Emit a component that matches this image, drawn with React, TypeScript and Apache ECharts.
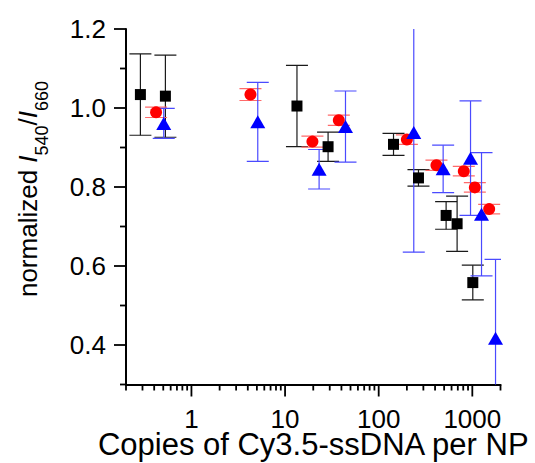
import React, { useEffect, useRef } from 'react';
import * as echarts from 'echarts';

// Black squares
const blackX = [0.285, 0.527, 13.4, 28.8, 144, 266, 525, 688, 1012];
const blackY = [1.034, 1.03, 1.005, 0.902, 0.908, 0.823, 0.728, 0.707, 0.558];
const blackErr = [0.103, 0.104, 0.103, 0.037, 0.028, 0.021, 0.035, 0.07, 0.044];

// Red circles
const redX = [0.419, 4.27, 19.6, 37.5, 200, 414, 811, 1064, 1513];
const redY = [0.989, 1.034, 0.915, 0.969, 0.92, 0.855, 0.84, 0.799, 0.744];
const redErr = [0.013, 0.015, 0.014, 0.013, 0.012, 0.013, 0.012, 0.012, 0.012];

// Blue triangles
const blueX = [0.506, 5.11, 23.1, 44.2, 237, 488, 957, 1254, 1770];
const blueY = [0.961, 0.965, 0.845, 0.953, 0.938, 0.846, 0.873, 0.731, 0.417];
const blueErr = [0.038, 0.1, 0.05, 0.09, 0.303, 0.06, 0.145, 0.156, 0.2];

// Axis ticks
const xMajorTicks = [1, 10, 100, 1000];
const xMinorTicks = [
  0.2, 0.3, 0.4, 0.5, 0.6, 0.7, 0.8, 0.9,
  2, 3, 4, 5, 6, 7, 8, 9,
  20, 30, 40, 50, 60, 70, 80, 90,
  200, 300, 400, 500, 600, 700, 800, 900,
  2000,
];
const yMajorTicks = [0.4, 0.6, 0.8, 1.0, 1.2];
const yMinorTicks = [0.3, 0.5, 0.7, 0.9, 1.1];

const xTitle = 'Copies of Cy3.5-ssDNA per NP';

const X_MIN = 0.2;
const X_MAX = 2000;
const Y_MIN = 0.3;
const Y_MAX = 1.2;

const FONT = '"Liberation Sans", Arial, Helvetica, sans-serif';

function errRender(color: string, capW: number, lw: number) {
  return (params: any, api: any) => {
    const x = api.value(0);
    const y = api.value(1);
    const e = api.value(2);
    const top = api.coord([x, y + e]);
    const bot = api.coord([x, y - e]);
    const h = capW / 2;
    const style = { stroke: color, lineWidth: lw, fill: 'none' };
    return {
      type: 'group',
      children: [
        { type: 'line', shape: { x1: top[0], y1: top[1], x2: bot[0], y2: bot[1] }, style },
        { type: 'line', shape: { x1: top[0] - h, y1: top[1], x2: top[0] + h, y2: top[1] }, style },
        { type: 'line', shape: { x1: bot[0] - h, y1: bot[1], x2: bot[0] + h, y2: bot[1] }, style },
      ],
    };
  };
}

export default function App() {
  const ref = useRef<HTMLDivElement>(null);

  useEffect(() => {
    document.body.style.margin = '0';
    const chart = echarts.init(ref.current!, null, { renderer: 'svg' });

    const zip3 = (a: number[], b: number[], c: number[]) => a.map((v, i) => [v, b[i], c[i]]);
    const zip2 = (a: number[], b: number[]) => a.map((v, i) => [v, b[i]]);

    const xTickData = [
      ...xMajorTicks.map((v) => [v, Y_MIN, 12]),
      ...xMinorTicks.map((v) => [v, Y_MIN, 6]),
    ];
    const yTickData = [
      ...yMajorTicks.map((v) => [X_MIN, v, 12]),
      ...yMinorTicks.map((v) => [X_MIN, v, 6]),
    ];

    const option: any = {
      animation: false,
      backgroundColor: '#ffffff',
      grid: {
        left: 126,
        right: 34.5,
        top: 29,
        bottom: 78.5,
        containLabel: false,
        outerBoundsMode: 'none',
      },
      xAxis: {
        type: 'log',
        logBase: 10,
        min: X_MIN,
        max: X_MAX,
        axisLine: { show: true, onZero: false, lineStyle: { color: '#000', width: 2 } },
        axisTick: { show: false },
        splitLine: { show: false },
        minorTick: { show: false },
        axisLabel: {
          fontSize: 26,
          lineHeight: 22,
          color: '#000',
          fontFamily: FONT,
          margin: 23,
          showMinLabel: false,
          showMaxLabel: false,
          formatter: (v: number) => {
            const l = Math.log10(v);
            return Math.abs(l - Math.round(l)) < 1e-6 ? String(Math.round(v)) : '';
          },
        },
      },
      yAxis: {
        type: 'value',
        min: Y_MIN,
        max: Y_MAX,
        interval: 0.1,
        axisLine: { show: true, onZero: false, lineStyle: { color: '#000', width: 2 } },
        axisTick: { show: false },
        splitLine: { show: false },
        axisLabel: {
          fontSize: 26,
          color: '#000',
          fontFamily: FONT,
          margin: 20,
          formatter: (v: number) => (Math.round(v * 10) % 2 === 0 ? v.toFixed(1) : ''),
        },
      },
      graphic: [
        {
          type: 'text',
          x: 313.25,
          y: 444.5,
          style: {
            text: xTitle,
            fontSize: 31,
            lineHeight: 24,
            fontFamily: FONT,
            fill: '#000',
            align: 'center',
            verticalAlign: 'middle',
          },
        },
        {
          type: 'text',
          x: 28,
          y: 189,
          rotation: Math.PI / 2,
          style: {
            text: 'normalized {i|I}{s|540}{n|/}{i|I}{s|660}',
            fontSize: 26,
            fontFamily: FONT,
            fill: '#000',
            align: 'center',
            verticalAlign: 'middle',
            lineHeight: 46,
            rich: {
              i: { fontSize: 26, fontStyle: 'italic', fontFamily: FONT, fill: '#000', lineHeight: 46 },
              n: { fontSize: 26, fontFamily: FONT, fill: '#000', lineHeight: 46 },
              s: { fontSize: 18, fontFamily: FONT, fill: '#000', lineHeight: 18, verticalAlign: 'bottom' },
            },
          },
        },
      ],
      series: [
        {
          type: 'custom',
          name: 'xTicks',
          data: xTickData,
          clip: false,
          silent: true,
          renderItem: (params: any, api: any) => {
            const p = api.coord([api.value(0), api.value(1)]);
            const len = api.value(2);
            return {
              type: 'line',
              shape: { x1: p[0], y1: p[1], x2: p[0], y2: p[1] + len },
              style: { stroke: '#000', lineWidth: 1.8 },
            };
          },
        },
        {
          type: 'custom',
          name: 'yTicks',
          data: yTickData,
          clip: false,
          silent: true,
          renderItem: (params: any, api: any) => {
            const p = api.coord([api.value(0), api.value(1)]);
            const len = api.value(2);
            return {
              type: 'line',
              shape: { x1: p[0], y1: p[1], x2: p[0] - len, y2: p[1] },
              style: { stroke: '#000', lineWidth: 1.8 },
            };
          },
        },
        {
          type: 'custom',
          name: 'blackErr',
          data: zip3(blackX, blackY, blackErr),
          clip: true,
          silent: true,
          renderItem: errRender('#1a1a1a', 22, 1.2),
        },
        {
          type: 'scatter',
          name: 'black',
          data: zip2(blackX, blackY),
          symbol: 'rect',
          symbolSize: 11,
          itemStyle: { color: '#000000', opacity: 1 },
        },
        {
          type: 'custom',
          name: 'redErr',
          data: zip3(redX, redY, redErr),
          clip: true,
          silent: true,
          renderItem: errRender('#ff6a6a', 22, 1.2),
        },
        {
          type: 'scatter',
          name: 'red',
          data: zip2(redX, redY),
          symbol: 'circle',
          symbolSize: 12,
          itemStyle: { color: '#ff0000', opacity: 1 },
        },
        {
          type: 'custom',
          name: 'blueErr',
          data: zip3(blueX, blueY, blueErr),
          clip: true,
          silent: true,
          renderItem: errRender('#4a4aff', 22, 1.2),
        },
        {
          type: 'scatter',
          name: 'blue',
          data: zip2(blueX, blueY),
          symbol: 'triangle',
          symbolSize: [15, 13],
          itemStyle: { color: '#0000ff', opacity: 1 },
        },
      ],
    };

    chart.setOption(option);
    return () => chart.dispose();
  }, []);

  return <div ref={ref} style={{ width: 535, height: 463 }} />;
}
